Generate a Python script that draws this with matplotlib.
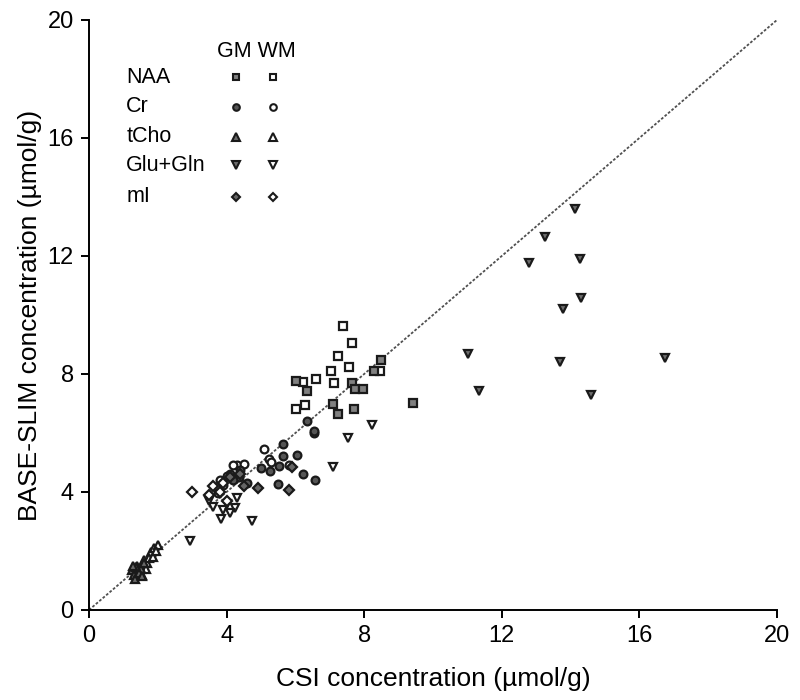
import numpy as np
import matplotlib
matplotlib.use('Agg')
import matplotlib.pyplot as plt

plt.rcParams['font.family'] = ['Liberation Sans', 'DejaVu Sans']

# CSI (x) vs BASE-SLIM (y) concentrations, umol/g
naa_gm_x = [6.02, 6.34, 8.49, 8.28, 7.65, 7.73, 7.97, 7.09, 7.70, 9.42, 7.24]
naa_gm_y = [7.77, 7.43, 8.48, 8.10, 7.70, 7.50, 7.50, 6.98, 6.81, 7.02, 6.64]
naa_wm_x = [7.38, 7.65, 7.24, 7.56, 7.03, 6.60, 6.22, 7.12, 6.28, 6.02, 8.46]
naa_wm_y = [9.61, 9.06, 8.62, 8.25, 8.10, 7.84, 7.73, 7.70, 6.95, 6.81, 8.10]

cr_gm_x = [6.34, 6.54, 6.54, 5.64, 5.64, 6.05, 5.52, 5.26, 6.22, 5.49, 6.57, 4.35, 4.10, 4.20, 4.60, 4.40, 5.00]
cr_gm_y = [6.41, 6.00, 6.08, 5.62, 5.21, 5.25, 4.87, 4.70, 4.60, 4.26, 4.39, 4.50, 4.60, 4.40, 4.30, 4.75, 4.80]
cr_wm_x = [5.09, 5.23, 4.30, 4.00, 3.90, 3.80, 4.50, 5.80, 5.30, 3.75, 4.20]
cr_wm_y = [5.45, 5.11, 4.90, 4.55, 4.25, 4.40, 4.95, 4.90, 5.00, 3.95, 4.90]

tcho_gm_x = [1.25, 1.30, 1.40, 1.35, 1.50, 1.45, 1.60, 1.38, 1.55, 1.28]
tcho_gm_y = [1.35, 1.20, 1.50, 1.05, 1.40, 1.25, 1.60, 1.45, 1.15, 1.50]
tcho_wm_x = [1.60, 1.70, 1.80, 1.90, 2.00, 1.75, 1.85, 1.65, 1.95, 1.55]
tcho_wm_y = [1.70, 1.60, 1.95, 2.10, 2.20, 1.75, 1.80, 1.40, 2.00, 1.20]

glx_gm_x = [14.13, 13.26, 12.80, 14.27, 13.78, 14.30, 11.02, 13.69, 16.74, 11.34, 14.60]
glx_gm_y = [13.60, 12.64, 11.75, 11.90, 10.20, 10.56, 8.69, 8.42, 8.55, 7.43, 7.29]
glx_wm_x = [8.23, 7.53, 7.09, 4.74, 2.94, 4.25, 3.50, 3.90, 3.85, 4.00, 4.30, 3.60, 4.10]
glx_wm_y = [6.27, 5.83, 4.84, 3.00, 2.35, 3.45, 3.70, 3.40, 3.10, 3.60, 3.80, 3.50, 3.30]

mi_gm_x = [4.90, 5.80, 5.90, 4.50, 4.10, 4.40]
mi_gm_y = [4.15, 4.05, 4.85, 4.20, 4.50, 4.60]
mi_wm_x = [3.00, 3.60, 3.80, 4.00, 3.90, 3.50]
mi_wm_y = [4.00, 4.20, 4.00, 3.70, 4.30, 3.90]

names = ['NAA', 'Cr', 'tCho', 'Glu+Gln', 'mI']
markers = ['s', 'o', '^', 'v', 'D']
sizes = [5.2, 5.6, 6.3, 6.3, 4.6]
gm_faces = ['#808080', '#555555', '#6a6a6a', '#6e6e6e', '#666666']
gm_sets = [(naa_gm_x, naa_gm_y), (cr_gm_x, cr_gm_y), (tcho_gm_x, tcho_gm_y),
           (glx_gm_x, glx_gm_y), (mi_gm_x, mi_gm_y)]
wm_sets = [(naa_wm_x, naa_wm_y), (cr_wm_x, cr_wm_y), (tcho_wm_x, tcho_wm_y),
           (glx_wm_x, glx_wm_y), (mi_wm_x, mi_wm_y)]

edge = '#1a1a1a'

fig = plt.figure(figsize=(8, 7), dpi=100)
ax = fig.add_axes([0.11125, 0.1286, 0.86, 0.8429])

ax.plot([0, 20], [0, 20], color='#505050', lw=1.3, ls=(0, (1.5, 1)), zorder=1)

for m, s, fc, (gx, gy), (wx, wy) in zip(markers, sizes, gm_faces, gm_sets, wm_sets):
    ax.plot(wx, wy, ls='none', marker=m, ms=s, mfc='white', mec=edge, mew=1.6, zorder=3)
    ax.plot(gx, gy, ls='none', marker=m, ms=s, mfc=fc, mec=edge, mew=1.6, zorder=3)

# hand-made legend (two marker columns)
row_y = [0.903, 0.853, 0.802, 0.754, 0.700]
ax.text(0.2435, 0.946, 'GM WM', transform=ax.transAxes, fontsize=15.5, ha='center', va='center')
for name, m, s, fc, yy in zip(names, markers, sizes, gm_faces, row_y):
    ax.text(0.054, yy, name, transform=ax.transAxes, fontsize=15.5, va='center')
    ax.plot([0.2137], [yy], transform=ax.transAxes, marker=m, ms=s * 0.85,
            mfc=fc, mec=edge, mew=1.5, ls='none', clip_on=False)
    ax.plot([0.2674], [yy], transform=ax.transAxes, marker=m, ms=s * 0.85,
            mfc='white', mec=edge, mew=1.5, ls='none', clip_on=False)

ax.set_xlim(0, 20)
ax.set_ylim(0, 20)
ax.set_xticks([0, 4, 8, 12, 16, 20])
ax.set_yticks([0, 4, 8, 12, 16, 20])
ax.tick_params(direction='out', length=6, width=1.4, labelsize=17, pad=5)
for side in ['top', 'right']:
    ax.spines[side].set_visible(False)
for side in ['left', 'bottom']:
    ax.spines[side].set_linewidth(1.4)

ax.set_xlabel('CSI concentration (\u00b5mol/g)', fontsize=19, labelpad=14)
ax.set_ylabel('BASE-SLIM concentration (\u00b5mol/g)', fontsize=19, labelpad=4)

fig.savefig('out.png', dpi=100)
